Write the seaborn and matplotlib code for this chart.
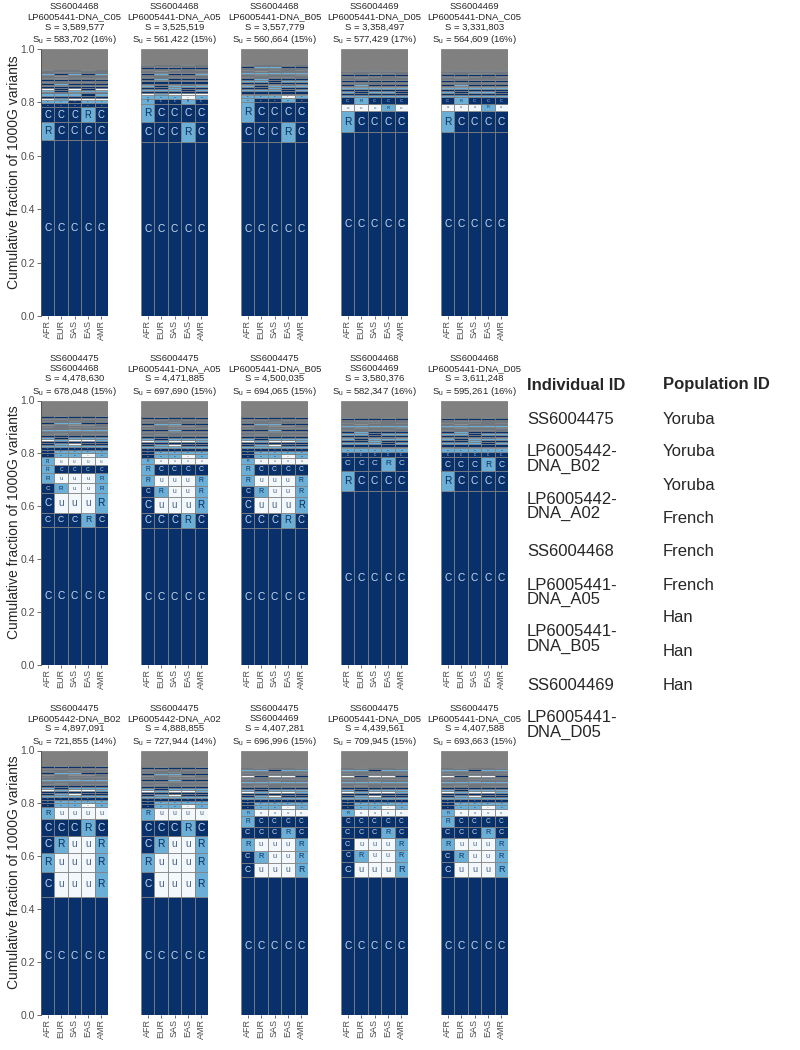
import matplotlib
matplotlib.use("Agg")
import matplotlib.pyplot as plt
import seaborn as sns
import numpy as np

sns.set_style("ticks")
plt.rcParams["font.family"] = ["Liberation Sans", "DejaVu Sans"]

# ---- data ----
populations = ["AFR", "EUR", "SAS", "EAS", "AMR"]

first_ids = ["SS6004468", "SS6004468", "SS6004468", "SS6004469", "SS6004469",
             "SS6004475", "SS6004475", "SS6004475", "SS6004468", "SS6004468",
             "SS6004475", "SS6004475", "SS6004475", "SS6004475", "SS6004475"]
second_ids = ["LP6005441-DNA_C05", "LP6005441-DNA_A05", "LP6005441-DNA_B05",
              "LP6005441-DNA_D05", "LP6005441-DNA_C05",
              "SS6004468", "LP6005441-DNA_A05", "LP6005441-DNA_B05",
              "SS6004469", "LP6005441-DNA_D05",
              "LP6005442-DNA_B02", "LP6005442-DNA_A02", "SS6004469",
              "LP6005441-DNA_D05", "LP6005441-DNA_C05"]
s_total = ["3,589,577", "3,525,519", "3,557,779", "3,358,497", "3,331,803",
           "4,478,630", "4,471,885", "4,500,035", "3,580,376", "3,611,248",
           "4,897,091", "4,888,855", "4,407,281", "4,439,561", "4,407,588"]
s_unique = ["583,702 (16%)", "561,422 (15%)", "560,664 (15%)", "577,429 (17%)",
            "564,609 (16%)", "678,048 (15%)", "697,690 (15%)", "694,065 (15%)",
            "582,347 (16%)", "595,261 (16%)", "721,855 (14%)", "727,944 (14%)",
            "696,996 (15%)", "709,945 (15%)", "693,663 (15%)"]

# main segments of each panel (bottom to top), one class letter per population
major_heights = [
    [0.659, 0.066, 0.0575, 0.015, 0.012],
    [0.651, 0.074, 0.070, 0.0175, 0.015],
    [0.650, 0.075, 0.075, 0.015, 0.012],
    [0.6875, 0.0785, 0.0265, 0.0265],
    [0.6875, 0.0815, 0.025, 0.025],
    [0.523, 0.053, 0.073, 0.038, 0.038, 0.031, 0.029],
    [0.517, 0.059, 0.060, 0.041, 0.041, 0.041, 0.022],
    [0.517, 0.059, 0.058, 0.043, 0.041, 0.041, 0.022],
    [0.658, 0.077, 0.050, 0.020, 0.015],
    [0.658, 0.075, 0.052, 0.020, 0.015],
    [0.447, 0.095, 0.072, 0.063, 0.063, 0.045],
    [0.447, 0.095, 0.072, 0.063, 0.062, 0.042],
    [0.523, 0.053, 0.045, 0.047, 0.044, 0.040, 0.026],
    [0.523, 0.057, 0.043, 0.045, 0.044, 0.040, 0.026],
    [0.523, 0.055, 0.045, 0.045, 0.044, 0.040, 0.026],
]
major_classes = [
    ["CCCCC", "RCCCC", "CCCRC", "CCCCC", "RRCRR"],
    ["CCCCC", "CCCRC", "RCCCC", "RCCRC", "RRRuR"],
    ["CCCCC", "CCCRC", "RCCCC", "RCCRC", "RRRuR"],
    ["CCCCC", "RCCCC", "uuuRu", "CRCCC"],
    ["CCCCC", "RCCCC", "uuuRu", "CRCCC"],
    ["CCCCC", "CCCRC", "CuuuR", "CRuuR", "RuuuR", "RCCCC", "Ruuuu"],
    ["CCCCC", "CCCRC", "CuuuR", "CRuuR", "RuuuR", "RCCCC", "Ruuuu"],
    ["CCCCC", "CCCRC", "CuuuR", "CRuuR", "RuuuR", "RCCCC", "Ruuuu"],
    ["CCCCC", "RCCCC", "CCCRC", "CCCCC", "RRRRR"],
    ["CCCCC", "RCCCC", "CCCRC", "CCCCC", "RRRRR"],
    ["CCCCC", "CuuuR", "RuuuR", "CRuuR", "CCCRC", "Ruuuu"],
    ["CCCCC", "CuuuR", "RuuuR", "CRuuR", "CCCRC", "Ruuuu"],
    ["CCCCC", "CuuuR", "CRuuR", "RuuuR", "CCCRC", "RCCCC", "Ruuuu"],
    ["CCCCC", "CuuuR", "CRuuR", "CuuuR", "CCCRC", "CCCCC", "Ruuuu"],
    ["CCCCC", "CuuuR", "CRuuR", "RuuuR", "CCCRC", "RCCCC", "Ruuuu"],
]

# thin stripes near the top of the stacks
top_a_heights = [0.006, 0.010, 0.008, 0.006, 0.008, 0.005, 0.008, 0.006, 0.006,
                 0.0045, 0.0045, 0.0045, 0.0045, 0.0045, 0.0045,
                 0.0045, 0.0045, 0.0045, 0.0045, 0.0045, 0.0045]
top_a_classes = ["uRuuu", "CCCCC", "RRRCR", "CCRCC", "RCRRR", "uCuCu", "CCCCC",
                 "RRCRR", "CRCCC",
                 "CCCCC", "RCRRC", "CCCCC", "CRCCR", "RRRRR", "CCCCC",
                 "CuCCC", "RCRCR", "CCCCC", "CRRCC", "CCCCC", "RCCRC"]
top_b_heights = [0.008, 0.008, 0.007, 0.008, 0.006, 0.006, 0.007,
                 0.0045, 0.0045, 0.0045, 0.0045, 0.0045, 0.0045,
                 0.0045, 0.0045, 0.0045, 0.0045, 0.0045, 0.0045]
top_b_classes = ["RRRRR", "CCCCC", "RCRRC", "CCCCC", "RRRRR", "uuuuu", "CRCCC",
                 "CCCCC", "RRCRR", "CCCCC", "RCRRR", "CCCCC", "CRCCC",
                 "RRRCR", "CCCCC", "CCRCC", "RCRRC", "CCCCC", "RRRRR"]
top_c_heights = [0.015, 0.013, 0.012, 0.008, 0.006, 0.008, 0.006, 0.008, 0.007,
                 0.0045, 0.0045, 0.0045, 0.0045, 0.0045, 0.0045, 0.0045, 0.0045,
                 0.0045, 0.0045, 0.0045, 0.0045, 0.0045, 0.0045, 0.0045, 0.0045,
                 0.0045]
top_c_classes = ["CRRuR", "CRRRR", "CCCCC", "RRRRR", "CRuCC", "CCCCC", "uRuuR",
                 "RCRRR", "CCCCC",
                 "CCCCC", "RRCRR", "CRCCC", "CCCCC", "RRRRR", "CCRCC", "CCCCC",
                 "RCRRR", "CCCCC", "uCuuC", "CRRCC", "CCCCC", "RCRCR", "CCCCC",
                 "RRCRR", "CCCCC", "CRCCR"]
top_pattern = ["A", "A", "A", "B", "B", "C", "C", "C", "A", "A",
               "C", "C", "C", "C", "C"]

table_individuals = [("Individual ID", 385), ("SS6004475", 419),
                     ("LP6005442-", 452), ("DNA_B02", 466),
                     ("LP6005442-", 499), ("DNA_A02", 513),
                     ("SS6004468", 552),
                     ("LP6005441-", 585), ("DNA_A05", 599),
                     ("LP6005441-", 632), ("DNA_B05", 646),
                     ("SS6004469", 685),
                     ("LP6005441-", 718), ("DNA_D05", 732)]
table_populations = [("Population ID", 385), ("Yoruba", 419), ("Yoruba", 452),
                     ("Yoruba", 485), ("French", 518), ("French", 552),
                     ("French", 585), ("Han", 618), ("Han", 652), ("Han", 685)]

# ---- style ----
class_colors = {"C": "#08306b", "R": "#6baed6", "u": "#f3f8fd"}
text_colors = {"C": "#c6dbef", "R": "#0b2f5e", "u": "#4a6384"}
edge = "#808080"

W, H = 800, 1050
row_top = [49, 400.5, 750.5]
row_bottom = [316, 665, 1015]
col_left = [41, 141, 241, 341, 441]
panel_w = 67

fig = plt.figure(figsize=(8, 10.5), dpi=100)
tops = {"A": (top_a_heights, top_a_classes),
        "B": (top_b_heights, top_b_classes),
        "C": (top_c_heights, top_c_classes)}

for i in range(15):
    r, c = divmod(i, 5)
    h_px = row_bottom[r] - row_top[r]
    ax = fig.add_axes([col_left[c] / W, 1 - row_bottom[r] / H,
                       panel_w / W, h_px / H])
    th, tc = tops[top_pattern[i]]
    heights = major_heights[i] + th
    classes = major_classes[i] + tc
    x = np.arange(len(populations))
    bottom = np.zeros(len(populations))
    for h, cls in zip(heights, classes):
        ax.bar(x, h, bottom=bottom, width=1.0,
               color=[class_colors[k] for k in cls],
               edgecolor=edge, linewidth=0.55)
        size = min(7.3, h * h_px * 0.62 * 0.72)
        if size >= 1.4:
            for xi, k in zip(x, cls):
                ax.text(xi, bottom[xi] + h / 2, k, ha="center", va="center",
                        fontsize=size, color=text_colors[k])
        bottom = bottom + h
    ax.bar(x, 1 - bottom, bottom=bottom, width=1.0, color="#808080",
           edgecolor=edge, linewidth=0.55)

    ax.set_xlim(-0.5, 4.5)
    ax.set_ylim(0, 1)
    ax.set_xticks(x)
    ax.set_xticklabels(populations, rotation=90, fontsize=6.5, color="#4d4d4d")
    ax.tick_params(axis="x", length=2, width=0.6, pad=1, color="#555555")
    sns.despine(ax=ax, left=(c != 0), bottom=True)
    if c == 0:
        ax.set_yticks(np.arange(0, 1.01, 0.2))
        ax.set_yticklabels([f"{v:.1f}" for v in np.arange(0, 1.01, 0.2)],
                           fontsize=7.5, color="#4d4d4d")
        ax.tick_params(axis="y", length=3, width=0.6, pad=1.5, color="#555555")
        ax.spines["left"].set_color("#555555")
        ax.spines["left"].set_linewidth(0.7)
        ax.set_ylabel("Cumulative fraction of 1000G variants", fontsize=10)
        ax.yaxis.set_label_coords(-0.30, 0.54)
    else:
        ax.tick_params(axis="y", left=False, labelleft=False)
    ax.set_title(f"{first_ids[i]}\n{second_ids[i]}\nS = {s_total[i]}\n"
                 f"S$_\\mathregular{{u}}$ = {s_unique[i]}",
                 fontsize=6.8, pad=5, linespacing=1.16)

for label, y in table_individuals:
    fig.text(527 / W, 1 - y / H, label, fontsize=12, va="center", ha="left",
             fontweight="bold" if label == "Individual ID" else "normal")
for label, y in table_populations:
    fig.text(663 / W, 1 - y / H, label, fontsize=12, va="center", ha="left",
             fontweight="bold" if label == "Population ID" else "normal")

fig.savefig("out.png", dpi=100, facecolor="white")
